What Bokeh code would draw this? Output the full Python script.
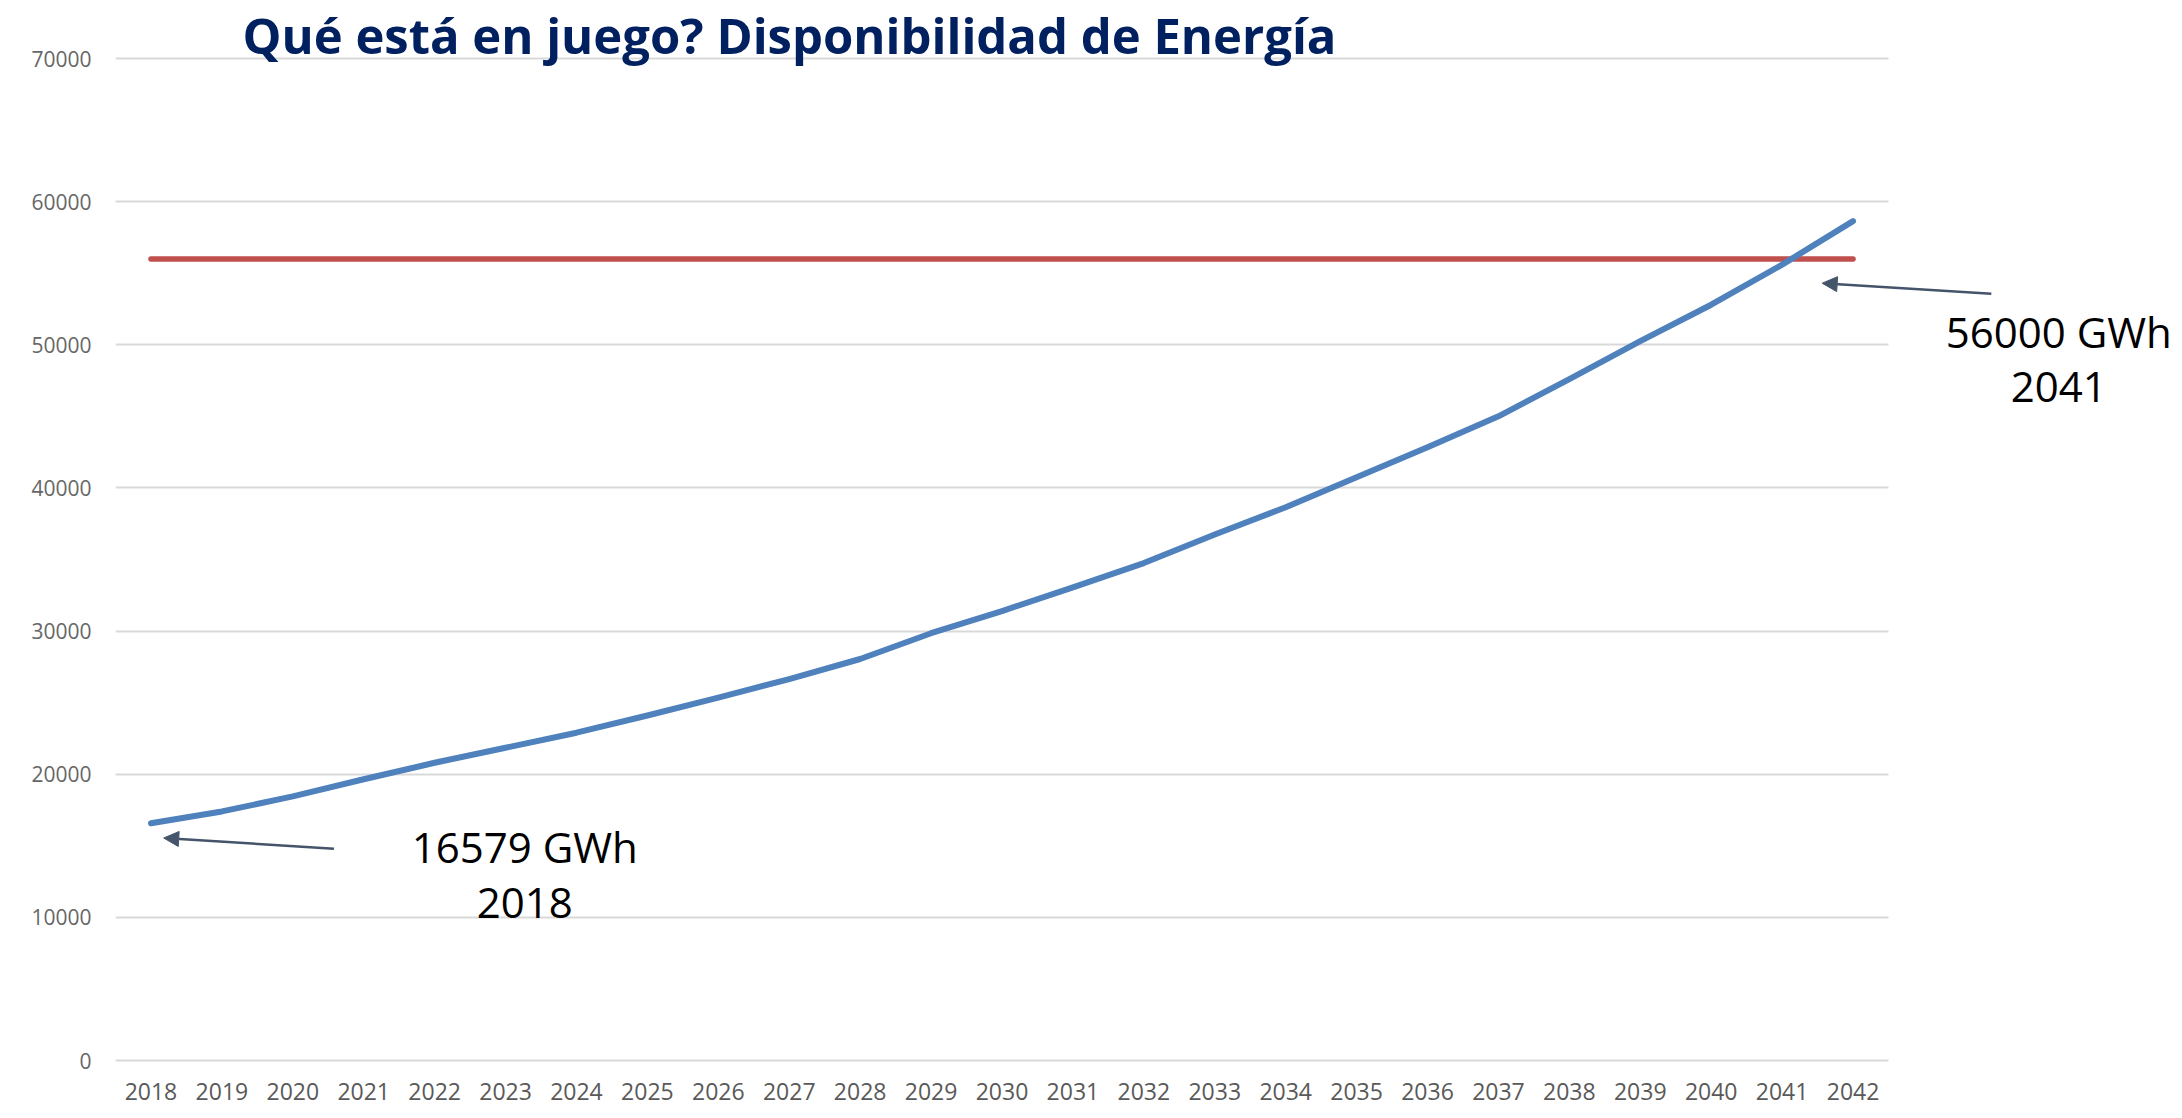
from bokeh.plotting import figure
from bokeh.models import (Range1d, FixedTicker, NumeralTickFormatter,
                          Label, Arrow, NormalHead, ColumnDataSource)
from bokeh.embed import file_html
from bokeh.resources import INLINE

# ---- data ----
years = list(range(2018, 2043))
demand = [16579, 17400, 18450, 19650, 20800, 21850, 22900, 24100, 25350, 26650,
          28050, 29850, 31400, 33050, 34750, 36750, 38650, 40750, 42850, 45000,
          47600, 50250, 52800, 55600, 58640]
capacity = [56000] * len(years)
y_ticks = [0, 10000, 20000, 30000, 40000, 50000, 60000, 70000]

title_text = "Qué está en juego? Disponibilidad de Energía"
note_start = ["16579 GWh", "2018"]
note_cross = ["56000 GWh", "2041"]

src = ColumnDataSource(dict(year=years, demand=demand, capacity=capacity))

W, H = 2182, 1118
x_lo = years[0] - 0.5
x_hi = years[-1] + 0.5
p = figure(width=W, height=H, output_backend="svg", toolbar_location=None,
           x_range=Range1d(x_lo, x_lo + 2067 / 70.92),
           y_range=Range1d(-978, 74053),
           min_border_left=115, min_border_right=0,
           min_border_top=0, min_border_bottom=44)
p.outline_line_color = None
p.background_fill_color = "white"
p.border_fill_color = "white"

# axes
p.xaxis.ticker = FixedTicker(ticks=years)
p.xaxis.formatter = NumeralTickFormatter(format="0")
p.xaxis.axis_line_color = None
p.xaxis.major_tick_line_color = None
p.xaxis.minor_tick_line_color = None
p.xaxis.major_label_text_font = "Open Sans"
p.xaxis.major_label_text_font_size = "23px"
p.xaxis.major_label_text_color = "#595959"
p.xaxis.major_label_standoff = 2

p.yaxis.axis_line_color = None
p.yaxis.major_tick_line_color = None
p.yaxis.minor_tick_line_color = None
p.yaxis.ticker = FixedTicker(ticks=y_ticks)
p.yaxis.formatter = NumeralTickFormatter(format="0")
p.yaxis.major_label_text_font = "Open Sans"
p.yaxis.major_label_text_font_size = "21px"
p.yaxis.major_label_text_color = "#666666"
p.yaxis.major_label_standoff = 18

p.xgrid.grid_line_color = None
g = p.ygrid[0]
if "cross_bounds" in g.properties():
    g.ticker = FixedTicker(ticks=y_ticks)
    g.cross_bounds = (x_lo, x_hi)
    g.grid_line_color = "#d9d9d9"
    g.grid_line_width = 2
else:
    g.grid_line_color = None
    p.segment(x0=[x_lo] * len(y_ticks), x1=[x_hi] * len(y_ticks),
              y0=y_ticks, y1=y_ticks, line_color="#d9d9d9", line_width=2)

# series
p.line("year", "capacity", source=src, line_color="#C0504D", line_width=5.5,
       line_cap="round")
p.line("year", "demand", source=src, line_color="#4F81BD", line_width=6,
       line_cap="round", line_join="round")

# title
p.add_layout(Label(x=x_lo + 127 / 70.92, y=71650, text=title_text,
                   text_font="Open Sans", text_font_style="bold",
                   text_font_size="49px", text_color="#002060",
                   text_align="left", text_baseline="alphabetic"))

# annotations
arrow_col = "#44546A"
p.add_layout(Arrow(end=NormalHead(size=15, fill_color=arrow_col, line_color=arrow_col),
                   x_start=years[0] + 2.58, y_start=demand[0] - 1790,
                   x_end=years[0] + 0.18, y_end=demand[0] - 1035,
                   line_color=arrow_col, line_width=2.5))
p.add_layout(Arrow(end=NormalHead(size=15, fill_color=arrow_col, line_color=arrow_col),
                   x_start=years[-1] + 1.95, y_start=capacity[0] - 2437,
                   x_end=years[-1] - 0.435, y_end=capacity[0] - 1696,
                   line_color=arrow_col, line_width=2.5))

for txt, yy in zip(note_start, [14950, 10970]):
    p.add_layout(Label(x=years[0] + 5.27, y=yy, text=txt, text_font="Open Sans",
                       text_font_size="42px", text_color="black",
                       text_align="center", text_baseline="alphabetic"))
for txt, yy in zip(note_cross, [50900, 47060]):
    p.add_layout(Label(x=years[-1] + 2.9, y=yy, text=txt, text_font="Open Sans",
                       text_font_size="42px", text_color="black",
                       text_align="center", text_baseline="alphabetic"))

open("out.html", "w").write(file_html(p, INLINE))
